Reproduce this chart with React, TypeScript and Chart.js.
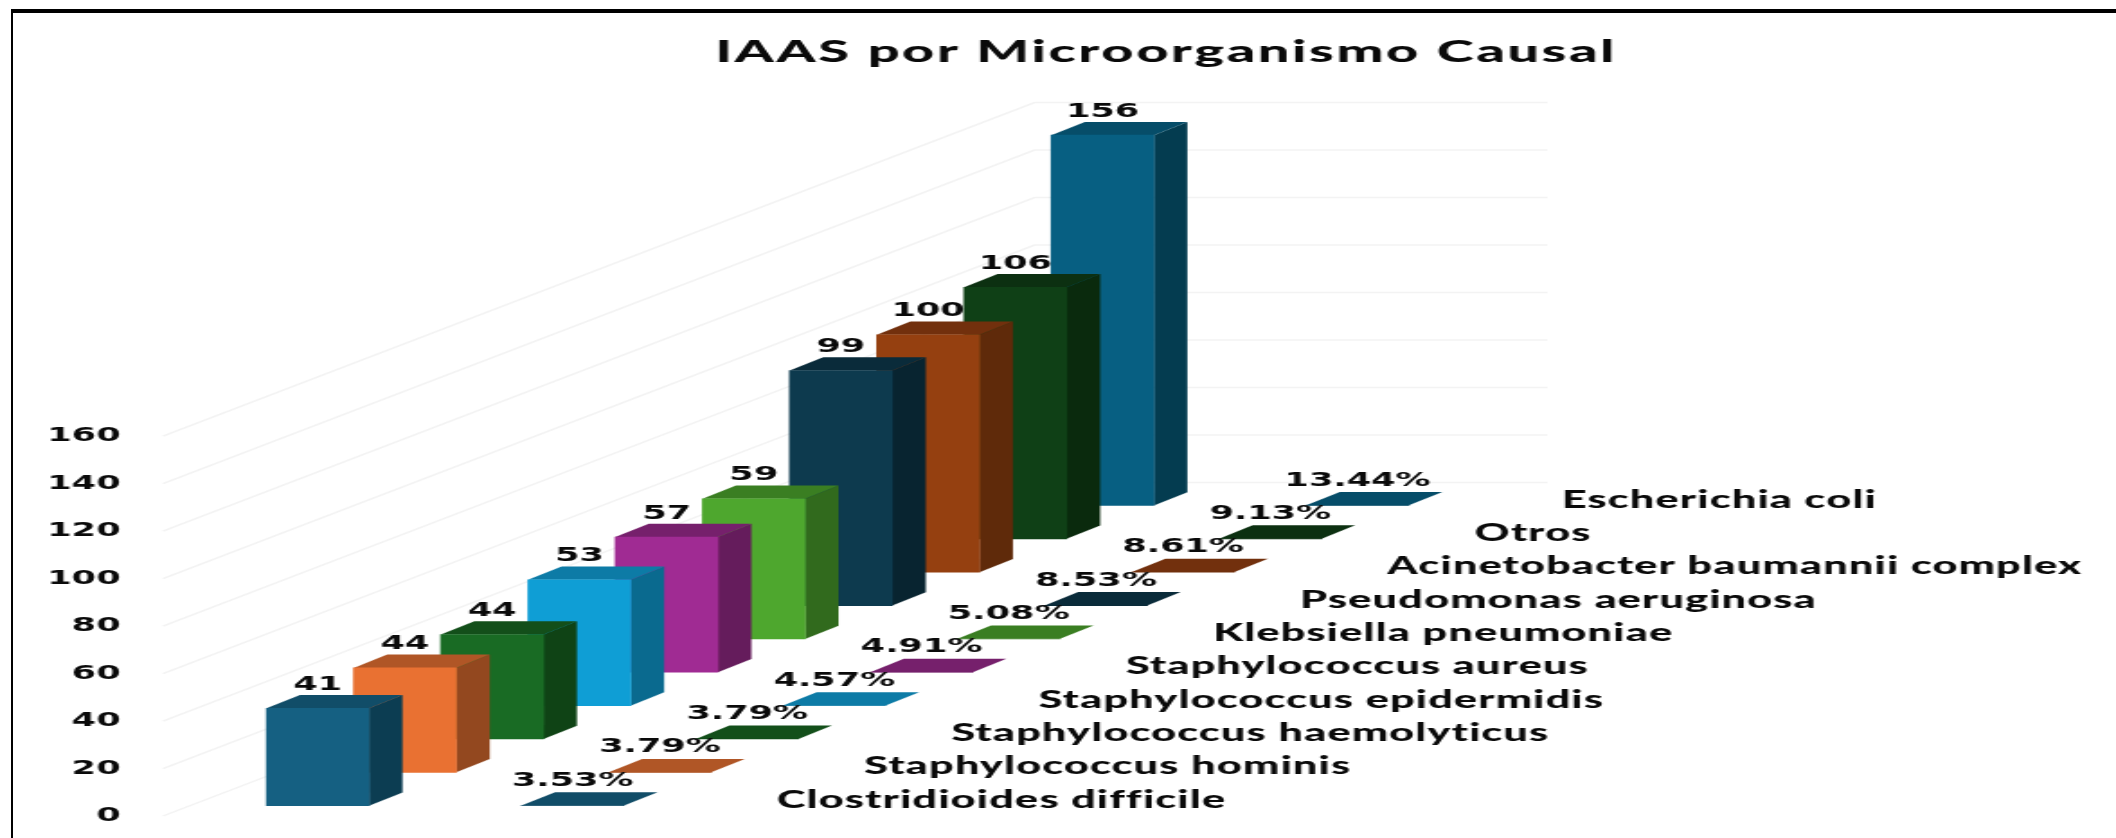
import React, { useEffect, useRef } from "react";
import { Chart, BarController, BarElement, CategoryScale, LinearScale, Title } from "chart.js";

const chartTitle = "IAAS por Microorganismo Causal";
const categories = [
  "Escherichia coli", "Otros", "Acinetobacter baumannii complex", "Pseudomonas aeruginosa",
  "Klebsiella pneumoniae", "Staphylococcus aureus", "Staphylococcus epidermidis",
  "Staphylococcus haemolyticus", "Staphylococcus hominis", "Clostridioides difficile",
];
const cases = [156, 106, 100, 99, 59, 57, 53, 44, 44, 41];
const shares = [13.44, 9.13, 8.61, 8.53, 5.08, 4.91, 4.57, 3.79, 3.79, 3.53];
const frontColors = ["#075F82", "#0F4016", "#954010", "#0D3A4E", "#4EA72E", "#A02B93", "#0F9ED5", "#196B24", "#E97132", "#156082"];
const topColors = ["#064D69", "#0C3011", "#72300D", "#0A2B3A", "#3A7E22", "#76206C", "#0D7BA6", "#134F1A", "#B05626", "#114D68"];
const sideColors = ["#043C50", "#0A2A0D", "#5F2A0A", "#082430", "#316A1D", "#651C5C", "#0A6A8F", "#0F4315", "#93481F", "#0C3D52"];

// The source picture is a horizontally stretched image, so the canvas is too.
const CANVAS_W = 1176;
const CANVAS_H = 838;
const STRETCH = 2116 / CANVAS_W;
const px = (fullPx: number) => fullPx / STRETCH;

const FLOOR_BASE = 4.34;
const FLOOR_STEP = 14.05;
const floorOf = (i: number) => FLOOR_BASE + (categories.length - 1 - i) * FLOOR_STEP;
const DEPTH_X = px(33.5);
const DEPTH_Y = 13.3;
const FLAT_SHIFT = px(255);
const NAME_SHIFT = px(459.25);
const CHART_LEFT = px(274.15);
const CHART_RIGHT = px(1146.15);
const NUM_FONT = { family: "'DejaVu Sans'", size: 19.5, weight: "bold" as const };
const NAME_FONT = "900 24px Lato";
const TEXT_COLOR = "#0a0a0a";

class Bar3DElement extends BarElement {
  static id = "bar3d";
  static defaults = { ...BarElement.defaults, shiftX: 0, sideColor: "#000", topColor: "#000" };
  draw(ctx: CanvasRenderingContext2D) {
    const { x, y, base, width } = this as any;
    const o = (this as any).options;
    const left = x - width / 2;
    const right = x + width / 2;
    const top = Math.min(y, base);
    const bot = Math.max(y, base);
    ctx.save();
    ctx.translate(o.shiftX, 0);
    if (bot - top > 1) {
      ctx.fillStyle = o.sideColor;
      ctx.beginPath();
      ctx.moveTo(right, top);
      ctx.lineTo(right + DEPTH_X, top - DEPTH_Y);
      ctx.lineTo(right + DEPTH_X, bot - DEPTH_Y);
      ctx.lineTo(right, bot);
      ctx.closePath();
      ctx.fill();
    }
    ctx.fillStyle = o.topColor;
    ctx.beginPath();
    ctx.moveTo(left, top);
    ctx.lineTo(left + DEPTH_X, top - DEPTH_Y);
    ctx.lineTo(right + DEPTH_X, top - DEPTH_Y);
    ctx.lineTo(right, top);
    ctx.closePath();
    ctx.fill();
    super.draw(ctx);
    ctx.restore();
  }
}

class Bar3DController extends BarController {
  static id = "bar3d";
  static defaults = { ...BarController.defaults, dataElementType: "bar3d" };
  static overrides = BarController.overrides;
}

Chart.register(CategoryScale, LinearScale, Title, BarElement, BarController, Bar3DElement, Bar3DController);

const wallPlugin = {
  id: "wall",
  afterLayout(chart: any) {
    const tb = chart.titleBlock;
    if (tb) {
      const delta = px(1166) - (tb.left + tb.right) / 2;
      tb.left += delta;
      tb.right += delta;
      const proto = Object.getPrototypeOf(tb);
      tb.draw = function () {
        chart.ctx.save();
        chart.ctx.letterSpacing = "1.45px";
        proto.draw.call(this);
        chart.ctx.restore();
      };
    }
  },
  beforeDatasetsDraw(chart: any) {
    const { ctx, scales } = chart;
    ctx.save();
    ctx.strokeStyle = "#f3f3f3";
    ctx.lineWidth = 1.5;
    for (const t of scales.y.ticks) {
      const yy = scales.y.getPixelForValue(t.value);
      ctx.beginPath();
      ctx.moveTo(px(163), yy);
      ctx.lineTo(px(1034.5), yy - 333.6);
      ctx.lineTo(px(1547.5), yy - 333.6);
      ctx.stroke();
    }
    ctx.restore();
  },
};

const labelPlugin = {
  id: "labels3d",
  afterDatasetsDraw(chart: any) {
    const { ctx } = chart;
    const bars = chart.getDatasetMeta(0).data;
    const flats = chart.getDatasetMeta(1).data;
    ctx.save();
    ctx.fillStyle = TEXT_COLOR;
    ctx.textBaseline = "middle";
    ctx.textAlign = "center";
    ctx.font = `bold ${NUM_FONT.size}px ${NUM_FONT.family}`;
    bars.forEach((el: any, i: number) => {
      ctx.fillText(String(cases[i]), el.x, el.y - 23.5);
      ctx.fillText(`${shares[i].toFixed(2)}%`, flats[i].x + FLAT_SHIFT, flats[i].base - 25);
    });
    ctx.textAlign = "left";
    ctx.font = NAME_FONT;
    ctx.letterSpacing = "0.65px";
    bars.forEach((el: any, i: number) => {
      ctx.fillText(categories[i], el.x + NAME_SHIFT, el.base - 5.7);
    });
    ctx.restore();
  },
};

export default function App() {
  const ref = useRef<HTMLCanvasElement>(null);
  useEffect(() => {
    document.body.style.margin = "0";
    const chart = new Chart(ref.current as HTMLCanvasElement, {
      type: "bar3d" as any,
      data: {
        labels: categories,
        datasets: [
          {
            label: "IAAS",
            data: cases.map((v, i) => [floorOf(i), floorOf(i) + v]),
            backgroundColor: frontColors,
            sideColor: sideColors,
            topColor: topColors,
            shiftX: 0,
            barThickness: 57,
            grouped: false,
            clip: false,
          } as any,
          {
            label: "%",
            data: shares.map((v, i) => [floorOf(i), floorOf(i) + v / 100]),
            backgroundColor: topColors,
            sideColor: topColors,
            topColor: topColors,
            shiftX: FLAT_SHIFT,
            barThickness: 57,
            grouped: false,
            clip: false,
          } as any,
        ],
      },
      options: {
        animation: false,
        responsive: false,
        devicePixelRatio: 1,
        layout: { padding: { left: 0, right: CANVAS_W - CHART_RIGHT, top: 0, bottom: 22 } },
        plugins: {
          title: {
            display: true,
            text: chartTitle,
            color: TEXT_COLOR,
            font: { family: "Lato", size: 31, weight: "900" },
            padding: { top: 33.4, bottom: 0 },
          },
          legend: { display: false },
          tooltip: { enabled: false },
        },
        scales: {
          x: { type: "category", reverse: true, offset: true, display: false, stacked: false },
          y: {
            type: "linear",
            min: 0,
            max: 314,
            afterBuildTicks: (s: any) => {
              s.ticks = s.ticks.filter((t: any) => t.value <= 160);
            },
            afterFit: (s: any) => {
              s.width = CHART_LEFT;
              s.paddingTop = 0;
              s.paddingBottom = 0;
            },
            grid: { display: false, drawTicks: false },
            border: { display: false },
            ticks: {
              stepSize: 20,
              autoSkip: false,
              padding: CHART_LEFT - px(120.5),
              color: TEXT_COLOR,
              font: NUM_FONT,
            },
          },
        },
      } as any,
      plugins: [wallPlugin, labelPlugin],
    });
    return () => chart.destroy();
  }, []);
  return (
    <div style={{ position: "absolute", left: 0, top: 0, width: 2116, height: 838, overflow: "hidden", background: "#fff" }}>
      <canvas
        ref={ref}
        width={CANVAS_W}
        height={CANVAS_H}
        style={{ position: "absolute", left: 0, top: 0, transform: `scaleX(${STRETCH})`, transformOrigin: "0 0", filter: "blur(0.4px)" }}
      />
      <div style={{ position: "absolute", left: 11, top: 9, width: 2105, height: 829, borderTop: "4px solid #000", borderLeft: "2px solid #000", boxSizing: "border-box" }} />
    </div>
  );
}
